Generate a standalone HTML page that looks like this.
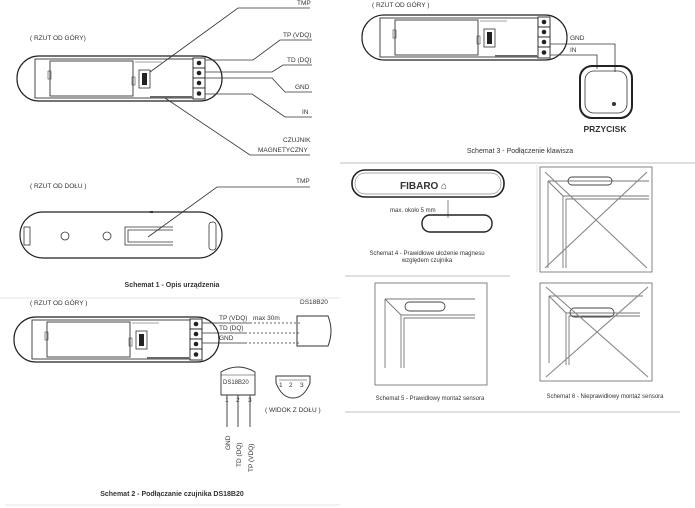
<!DOCTYPE html>
<html><head><meta charset="utf-8"><style>
html,body{margin:0;padding:0;background:#fff}
svg{display:block}
text{font-family:"Liberation Sans",sans-serif;fill:#333}
</style></head><body>
<svg width="695" height="508" viewBox="0 0 695 508" xmlns="http://www.w3.org/2000/svg">
<defs>
<g id="dev">
  <rect x="0" y="0" width="205" height="45" rx="22" fill="none" stroke="#222" stroke-width="1.2"/>
  <rect x="18" y="3" width="166" height="39" fill="none" stroke="#333" stroke-width="0.9"/>
  <rect x="33" y="5" width="83" height="35" fill="none" stroke="#333" stroke-width="0.9"/>
  <rect x="31" y="15" width="3" height="8" fill="none" stroke="#444" stroke-width="0.6"/>
  <rect x="115" y="21" width="3" height="8" fill="none" stroke="#444" stroke-width="0.6"/>
  <rect x="122" y="14" width="11" height="18" fill="#fff" stroke="#333" stroke-width="0.8"/>
  <rect x="125" y="17" width="5" height="12" fill="#222"/>
  <line x1="118" y1="6" x2="145" y2="6" stroke="#444" stroke-width="0.6"/>
  <line x1="133" y1="41" x2="175" y2="41" stroke="#666" stroke-width="2"/>
  <g fill="#fff" stroke="#222" stroke-width="0.9">
  <rect x="176" y="2" width="12" height="10"/><rect x="176" y="12" width="12" height="10"/><rect x="176" y="22" width="12" height="10"/><rect x="176" y="32" width="12" height="11"/></g>
  <g fill="#222"><circle cx="182" cy="7" r="2.3"/><circle cx="182" cy="17" r="2.3"/><circle cx="182" cy="27" r="2.3"/><circle cx="182" cy="37.5" r="2.3"/></g>
</g>
</defs>
<g font-size="6.5">
<text x="30" y="40">( RZUT OD GÓRY)</text>
<use href="#dev" x="17" y="56"/>
<g fill="none" stroke="#333" stroke-width="0.8">
<polyline points="150,72 238,8 310,8"/>
<polyline points="205,60 253,60 280,40 312,40"/>
<polyline points="205,72 272,72 283,65 312,65"/>
<polyline points="205,78 272,78 285,92 312,92"/>
<polyline points="205,94 252,94 285,117 312,117"/>
<polyline points="165,98 250,155 310,155"/>
</g>
<text x="297" y="5">TMP</text>
<text x="283" y="37">TP (VDQ)</text>
<text x="287" y="62">TD (DQ)</text>
<text x="295" y="89">GND</text>
<text x="302" y="114">IN</text>
<text x="283" y="142">CZUJNIK</text>
<text x="258" y="152">MAGNETYCZNY</text>

<text x="30" y="188">( RZUT OD DOŁU )</text>
<rect x="20" y="212" width="202" height="46" rx="23" fill="none" stroke="#222" stroke-width="1.2"/>
<rect x="24" y="227" width="6" height="18" fill="none" stroke="#333" stroke-width="0.8"/>
<rect x="209" y="222" width="7" height="28" rx="3" fill="none" stroke="#333" stroke-width="0.8"/>
<circle cx="65" cy="236" r="4" fill="none" stroke="#333" stroke-width="0.8"/>
<circle cx="107" cy="236" r="4" fill="none" stroke="#333" stroke-width="0.8"/>
<path d="M173,227 H125 V245 H173 M173,230 H128 V242 H173" fill="none" stroke="#333" stroke-width="0.8"/>
<rect x="150" y="211" width="3" height="2" fill="#333"/>
<polyline points="148,237 217,187 310,187" fill="none" stroke="#333" stroke-width="0.8"/>
<text x="296" y="183">TMP</text>
<text x="172" y="287" text-anchor="middle" font-weight="bold" font-size="7">Schemat 1 - Opis urządzenia</text>
<line x1="0" y1="298" x2="340" y2="298" stroke="#ddd" stroke-width="0.7"/>

<text x="30" y="305">( RZUT OD GÓRY )</text>
<text x="300" y="304">DS18B20</text>
<use href="#dev" x="14" y="317"/>
<g stroke="#333" stroke-width="0.8" fill="none">
<line x1="202" y1="323" x2="250" y2="323"/><line x1="250" y1="323" x2="300" y2="323" stroke-dasharray="2,2"/>
<line x1="202" y1="333" x2="245" y2="333"/><line x1="245" y1="333" x2="300" y2="333" stroke-dasharray="2,2"/>
<line x1="202" y1="343" x2="245" y2="343"/><line x1="245" y1="343" x2="300" y2="343" stroke-dasharray="2,2"/>
<path d="M297,316 H328 Q334,331 328,346 H297 Z" stroke-width="1"/>
</g>
<text x="219" y="320">TP (VDQ)</text><text x="253" y="320">max 30m</text>
<text x="219" y="330">TD (DQ)</text>
<text x="219" y="340">GND</text>
<path d="M221,372 Q238,362 255,372 V395 H221 Z" fill="#fff" stroke="#333" stroke-width="0.9"/>
<line x1="221" y1="375" x2="255" y2="375" stroke="#333" stroke-width="0.6"/>
<text x="223" y="384" font-size="6">DS18B20</text>
<text x="225" y="402">1</text><text x="236" y="402">2</text><text x="248" y="402">3</text>
<g stroke="#333" stroke-width="0.9"><line x1="227" y1="395" x2="227" y2="427"/><line x1="238" y1="395" x2="238" y2="427"/><line x1="250" y1="395" x2="250" y2="427"/></g>
<text transform="translate(230,450) rotate(-90)">GND</text>
<text transform="translate(241,467) rotate(-90)">TD (DQ)</text>
<text transform="translate(253,472) rotate(-90)">TP (VDQ)</text>
<path d="M276,376 H310 V383 Q304,398 293,398 Q282,398 276,383 Z" fill="none" stroke="#333" stroke-width="1"/>
<line x1="279" y1="380" x2="307" y2="380" stroke="#333" stroke-width="0.5"/>
<text x="279" y="387">1</text><text x="289" y="387">2</text><text x="300" y="387">3</text>
<text x="265" y="412">( WIDOK Z DOŁU )</text>
<text x="172" y="496" text-anchor="middle" font-weight="bold" font-size="7">Schemat 2 - Podłączanie czujnika DS18B20</text>
<line x1="5" y1="505" x2="340" y2="505" stroke="#ddd" stroke-width="0.7"/>

<text x="372" y="7">( RZUT OD GÓRY )</text>
<use href="#dev" x="362" y="15"/>
<g fill="none" stroke="#333" stroke-width="0.8">
<polyline points="550,44 615,44 615,72"/>
<polyline points="550,55 597,55 597,69"/>
<rect x="580" y="66" width="52" height="52" rx="12" stroke="#222" stroke-width="2"/>
<rect x="585" y="71" width="42" height="42" rx="9"/>
</g>
<circle cx="614" cy="104" r="2" fill="#333"/>
<text x="570" y="40">GND</text><text x="570" y="52">IN</text>
<text x="605" y="132" text-anchor="middle" font-weight="bold" font-size="8.5" fill="#222">PRZYCISK</text>
<text x="520" y="153" text-anchor="middle" font-size="7">Schemat 3 - Podłączenie klawisza</text>
<line x1="340" y1="163" x2="695" y2="163" stroke="#aaa" stroke-width="0.8"/>

<rect x="352" y="170" width="152" height="27" rx="13" fill="none" stroke="#222" stroke-width="1.6"/>
<rect x="355" y="173" width="146" height="21" rx="10" fill="none" stroke="#555" stroke-width="0.5"/>
<text x="400" y="189" font-weight="bold" font-size="10" fill="#222">FIBARO</text>
<text x="441" y="189" font-size="10" fill="#222">⌂</text>
<line x1="448" y1="200" x2="448" y2="218" stroke="#333" stroke-width="0.6"/>
<text x="390" y="212" font-size="6">max. około 5 mm</text>
<rect x="422" y="215" width="70" height="17" rx="8" fill="none" stroke="#222" stroke-width="1.4"/>
<text x="427" y="255" text-anchor="middle" font-size="6">Schemat 4 - Prawidłowe ułożenie magnesu</text>
<text x="427" y="262" text-anchor="middle" font-size="6">względem czujnika</text>
<line x1="537" y1="165" x2="537" y2="272" stroke="#ccc" stroke-width="0.6"/>
<line x1="345" y1="276" x2="510" y2="276" stroke="#aaa" stroke-width="0.8"/>

<g fill="none" stroke="#777" stroke-width="0.9">
<rect x="540" y="167" width="112" height="105"/>
<polyline points="548,181 649,181"/><polyline points="548,181 548,268"/>
<line x1="548" y1="181" x2="563" y2="196"/>
<polyline points="563,268 563,196 649,196"/><polyline points="566,268 566,199 649,199"/>
<rect x="568" y="177" width="44" height="8" rx="4" stroke="#444"/>
<line x1="545" y1="172" x2="647" y2="268" stroke="#888" stroke-width="1.1"/><line x1="647" y1="172" x2="545" y2="268" stroke="#888" stroke-width="1.1"/>
</g>
<g fill="none" stroke="#777" stroke-width="0.9">
<rect x="375" y="283" width="112" height="102"/>
<polyline points="385,299 475,299"/><polyline points="385,299 385,368"/>
<line x1="385" y1="299" x2="401" y2="315"/>
<polyline points="401,368 401,315 475,315"/><polyline points="404,368 404,318 475,318"/>
<rect x="405" y="302" width="40" height="9" rx="4.5" stroke="#444"/>
</g>
<text x="430" y="400" text-anchor="middle" font-size="6">Schemat 5 - Prawidłowy montaż sensora</text>
<g fill="none" stroke="#777" stroke-width="0.9">
<rect x="540" y="283" width="112" height="98"/>
<polyline points="549,296 643,296"/><polyline points="549,296 549,363"/>
<line x1="549" y1="296" x2="566" y2="313"/>
<polyline points="566,365 566,313 640,313"/><polyline points="569,365 569,316 640,316"/>
<rect x="570" y="308" width="44" height="9" rx="4.5" stroke="#444"/>
<line x1="546" y1="287" x2="648" y2="377" stroke="#888" stroke-width="1.1"/><line x1="648" y1="287" x2="546" y2="377" stroke="#888" stroke-width="1.1"/>
</g>
<text x="605" y="398" text-anchor="middle" font-size="6">Schemat 6 - Nieprawidłowy montaż sensora</text>
<line x1="345" y1="412" x2="680" y2="412" stroke="#aaa" stroke-width="0.8"/>
</g>
</svg>
</body></html>
